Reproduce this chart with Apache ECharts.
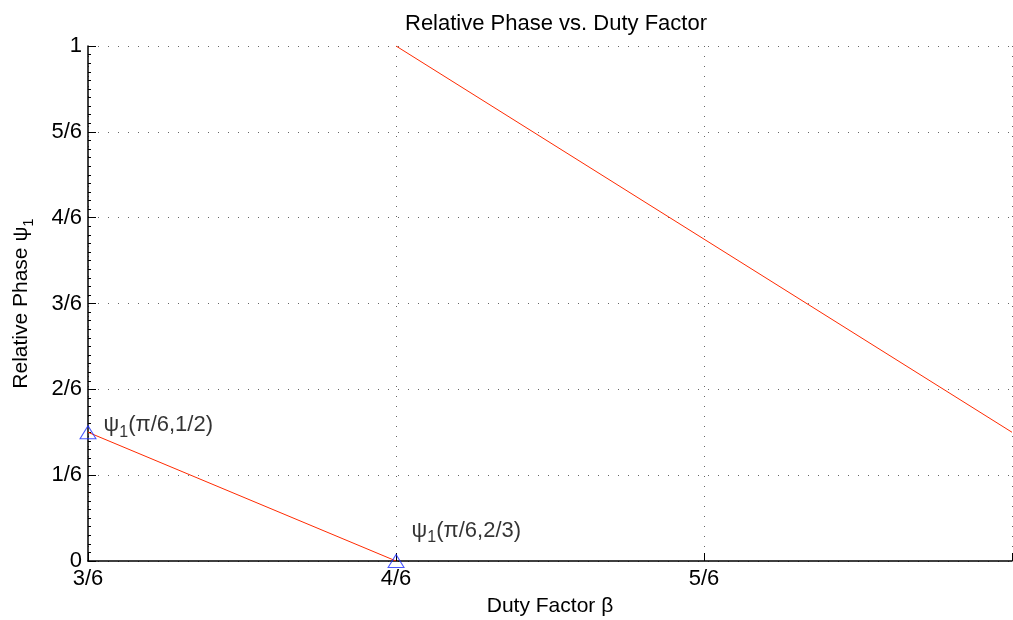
<!DOCTYPE html>
<html><head><meta charset="utf-8">
<script src="https://cdn.jsdelivr.net/npm/echarts@6/dist/echarts.min.js"></script>
<style>html,body{margin:0;padding:0;background:#fff}#c{width:1013px;height:620px}</style>
</head><body><div id="c"></div>
<script>
const xTickLabels = ['3/6', '4/6', '5/6', ''];
const yTickLabels = ['0', '1/6', '2/6', '3/6', '4/6', '5/6', '1'];
const segment1 = [[0.5, 0.25], [0.6667, 0]];
const segment2 = [[0.6667, 1], [1, 0.25]];
const markerPoints = [[0.5, 0.25], [0.6667, 0]];
const markerLabels = ['(π/6,1/2)', '(π/6,2/3)'];

const FONT = "'Liberation Sans', Arial, Helvetica, sans-serif";
function richSub(size, subSize, drop) {
  return {
    a: { fontSize: size, fontFamily: FONT, color: '#000', lineHeight: size, verticalAlign: 'top' },
    s: { fontSize: subSize, fontFamily: FONT, color: '#000', lineHeight: subSize, verticalAlign: 'top', padding: [drop, 0, 0, 0] }
  };
}
const gridLine = { show: true, lineStyle: { color: '#666', width: 1, type: [1, 9] } };

const chart = echarts.init(document.getElementById('c'), null, { renderer: 'canvas' });
chart.setOption({
  animation: false,
  backgroundColor: '#fff',
  title: {
    text: 'Relative Phase vs. Duty Factor',
    left: 551, top: 8, textAlign: 'center',
    textStyle: { fontFamily: FONT, fontSize: 22, fontWeight: 'normal', color: '#000' }
  },
  grid: { left: 88, right: 1, top: 46, bottom: 59, containLabel: false, outerBoundsMode: 'none' },
  xAxis: {
    type: 'value', min: 0.5, max: 1, interval: 1 / 6,
    name: 'Duty Factor β', nameLocation: 'middle', nameGap: 35,
    nameTextStyle: { fontFamily: FONT, fontSize: 21, color: '#000' },
    axisLine: { show: true, onZero: false, lineStyle: { color: '#000', width: 1.5 } },
    axisTick: { show: true, inside: true, length: 8, lineStyle: { color: '#000' } },
    axisLabel: {
      margin: 7, fontFamily: FONT, fontSize: 22, color: '#000',
      formatter: v => xTickLabels[Math.round((v - 0.5) * 6)]
    },
    splitLine: gridLine
  },
  yAxis: {
    type: 'value', min: 0, max: 1, interval: 1 / 6,
    name: '{a|Relative Phase ψ}{s|1}', nameLocation: 'middle', nameGap: 56, nameRotate: 90,
    nameTextStyle: { rich: richSub(21, 15, 10) },
    axisLine: { show: true, onZero: false, lineStyle: { color: '#000', width: 1.5 } },
    axisTick: { show: true, inside: true, length: 8, lineStyle: { color: '#000' } },
    minorTick: { show: true, splitNumber: 10, length: 3, lineStyle: { color: '#000' } },
    axisLabel: {
      margin: 6, fontFamily: FONT, fontSize: 22, color: '#000',
      formatter: v => yTickLabels[Math.round(v * 6)]
    },
    splitLine: gridLine
  },
  series: [
    { type: 'line', data: segment1, showSymbol: false, symbol: 'none',
      lineStyle: { color: '#ff2a00', width: 1 }, z: 3 },
    { type: 'line', data: segment2, showSymbol: false, symbol: 'none',
      lineStyle: { color: '#ff2a00', width: 1 }, z: 3 },
    { type: 'scatter', data: markerPoints, symbol: 'triangle', symbolSize: [16, 13],
      itemStyle: { color: 'rgba(0,0,0,0)', borderColor: '#1a2cff', borderWidth: 1 }, z: 4,
      label: {
        show: true, position: 'right', distance: 7, color: '#000',
        formatter: p => '{a|ψ}{s|1}{a|' + markerLabels[p.dataIndex] + '}',
        rich: richSub(22, 16, 10)
      },
      labelLayout: p => ({ dy: p.dataIndex === 1 ? -30 : -7 })
    }
  ]
});
</script></body></html>
